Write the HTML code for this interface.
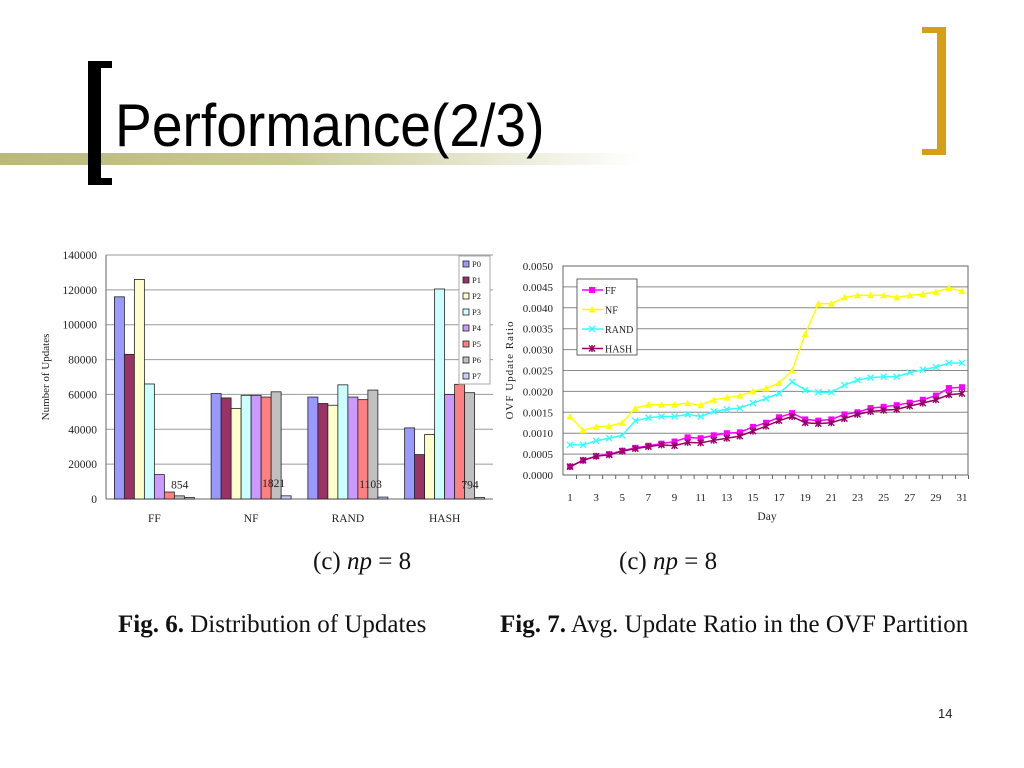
<!DOCTYPE html>
<html><head><meta charset="utf-8"><style>
body{margin:0;width:1024px;height:768px;background:#fff;overflow:hidden;position:relative;font-family:"Liberation Sans",sans-serif}
.abs{position:absolute}
.cap{font-family:"Liberation Serif",serif;font-size:25px;color:#111;white-space:nowrap}
</style></head><body>
<div class="abs" style="left:0;top:153px;width:640px;height:12px;background:linear-gradient(to right,#b9b97a 0%,#c9c995 45%,#ffffff 100%)"></div>
<div class="abs" style="left:88px;top:61px;width:13px;height:124px;background:#000"></div>
<div class="abs" style="left:88px;top:61px;width:24px;height:7px;background:#000"></div>
<div class="abs" style="left:88px;top:178px;width:24px;height:7px;background:#000"></div>
<div class="abs" style="left:937px;top:27px;width:9px;height:128px;background:#d4a017"></div>
<div class="abs" style="left:922px;top:27px;width:24px;height:6px;background:#d4a017"></div>
<div class="abs" style="left:922px;top:149px;width:24px;height:6px;background:#d4a017"></div>
<div class="abs" style="left:115px;top:92px;font-size:60px;line-height:68px;color:#000;transform:scaleX(0.92);transform-origin:0 0">Performance(2/3)</div>

<svg class="abs" style="left:0;top:0" width="1024" height="768" font-family="Liberation Serif, serif">
<g id="bar"></g><g id="line"></g>
</svg>

<div class="abs cap" style="left:313px;top:548px">(c) <i>np</i> = 8</div>
<div class="abs cap" style="left:619px;top:548px">(c) <i>np</i> = 8</div>
<div class="abs cap" style="left:118px;top:611px"><b>Fig. 6.</b> Distribution of Updates</div>
<div class="abs cap" style="left:500px;top:611px"><b>Fig. 7.</b> Avg. Update Ratio in the OVF Partition</div>
<div class="abs" style="left:938px;top:706px;font-size:13px;color:#222">14</div>

<script>
const NS="http://www.w3.org/2000/svg";
function mk(p,t,a){const e=document.createElementNS(NS,t);for(const k in a)e.setAttribute(k,a[k]);p.appendChild(e);return e;}

// ---- Bar chart data ----
const barCategories=["FF","NF","RAND","HASH"];
const barSeriesNames=["P0","P1","P2","P3","P4","P5","P6","P7"];
const barP0=[116000,60500,58500,40800];
const barP1=[83000,58000,54800,25500];
const barP2=[126000,52000,53800,37000];
const barP3=[66000,59500,65500,120500];
const barP4=[14000,59500,58500,60000];
const barP5=[4000,58500,57000,65800];
const barP6=[1800,61500,62500,61000];
const barP7=[854,1821,1103,794];
const barYTicks=[0,20000,40000,60000,80000,100000,120000,140000];
const barLabels=["854","1821","1103","794"];

const barColors=["#9999ff","#993366","#ffffcc","#ccffff","#cc99ff","#ff8080","#c0c0c0","#ccccff"];
const bs=[barP0,barP1,barP2,barP3,barP4,barP5,barP6,barP7];
const bx0=106,bx1=493,by0=499,by1=255,bmax=140000;
const by=v=>by0-(v/bmax)*(by0-by1);
const gw=(bx1-bx0)/barCategories.length;
const bw=10;
const B=document.getElementById('bar');
barYTicks.forEach(t=>{
  const l=mk(B,'line',{x1:bx0,x2:bx1,y1:by(t),y2:by(t),stroke:t?'#9a9a9a':'#666','stroke-width':1});
  
  
  const tx=mk(B,'text',{x:bx0-9,y:by(t)+4,'text-anchor':'end','font-size':11.5,fill:'#222'});tx.textContent=t;
  
  
});
mk(B,'line',{x1:bx0,x2:bx0,y1:by1,y2:by0,stroke:'#666'});
barCategories.forEach((c,i)=>{
  const gx=bx0+gw*i+(gw-8*bw)/2;
  bs.forEach((s,j)=>{
    const r=mk(B,'rect',{x:gx+j*bw,y:by(s[i]),width:bw,height:by0-by(s[i]),fill:barColors[j],stroke:'#222','stroke-width':0.8});
    
    
  });
  const t=mk(B,'text',{x:bx0+gw*(i+0.5),y:522,'text-anchor':'middle','font-size':11.5,fill:'#222'});t.textContent=c;
  
  
  const v=mk(B,'text',{x:gx+7*bw+4,y:by(barP7[i])-9,'text-anchor':'end','font-size':11.5,fill:'#222'});v.textContent=barLabels[i];
  
  
});
const yt=mk(B,'text',{transform:'translate(49,377) rotate(-90)','text-anchor':'middle','font-size':11,fill:'#222'});yt.textContent='Number of Updates';


const lg=mk(B,'rect',{x:459,y:256,width:31,height:128,fill:'#fff',stroke:'#aaa'});


barSeriesNames.forEach((n,j)=>{
  const y=264+j*16;
  const r=mk(B,'rect',{x:463,y:y-3,width:6,height:6,fill:barColors[j],stroke:'#222','stroke-width':0.8});
  
  
  const t=mk(B,'text',{x:472,y:y+3,'font-size':8.5,fill:'#222'});t.textContent=n;
});

// ---- Line chart data ----
const days=[];for(let d=1;d<=31;d++)days.push(d);
const lineFF=[0.0002,0.00035,0.00045,0.0005,0.00058,0.00065,0.0007,0.00075,0.0008,0.0009,0.00088,0.00095,0.001,0.00102,0.00115,0.00125,0.00138,0.00148,0.00133,0.0013,0.00133,0.00145,0.0015,0.0016,0.00163,0.00167,0.00173,0.0018,0.0019,0.00208,0.0021];
const lineNF=[0.0014,0.00107,0.00115,0.00117,0.00125,0.0016,0.00168,0.00168,0.00168,0.00172,0.00167,0.0018,0.00185,0.0019,0.002,0.00207,0.0022,0.0025,0.00337,0.0041,0.0041,0.00425,0.0043,0.0043,0.0043,0.00425,0.0043,0.00433,0.00438,0.00447,0.0044];
const lineRAND=[0.00072,0.00072,0.00082,0.00088,0.00095,0.0013,0.00137,0.0014,0.0014,0.00145,0.0014,0.00152,0.00157,0.0016,0.00172,0.00183,0.00195,0.00223,0.00203,0.00198,0.00198,0.00215,0.00227,0.00233,0.00235,0.00235,0.00245,0.00252,0.00258,0.00268,0.00268];
const lineHASH=[0.0002,0.00035,0.00045,0.00048,0.00057,0.00063,0.00068,0.00072,0.0007,0.00078,0.00077,0.00083,0.00088,0.00093,0.00105,0.00117,0.0013,0.0014,0.00125,0.00123,0.00125,0.00135,0.00145,0.00152,0.00155,0.00157,0.00165,0.00172,0.0018,0.00192,0.00195];
const lineYTicks=["0.0000","0.0005","0.0010","0.0015","0.0020","0.0025","0.0030","0.0035","0.0040","0.0045","0.0050"];
const lineSeriesNames=["FF","NF","RAND","HASH"];

const lx0=563,lx1=968,ly0=475,ly1=266,lmax=0.005;
const lx=d=>570+(d-1)*(962-570)/30;
const ly=v=>ly0-(v/lmax)*(ly0-ly1);
const L=document.getElementById('line');
lineYTicks.forEach(t=>{
  const v=parseFloat(t);
  const g=mk(L,'line',{x1:lx0,x2:lx1,y1:ly(v),y2:ly(v),stroke:'#888','stroke-width':1});
  
  
  const tx=mk(L,'text',{x:lx0-10,y:ly(v)+4,'text-anchor':'end','font-size':11,fill:'#222'});tx.textContent=t;
  
  
});
mk(L,'rect',{x:lx0,y:ly1,width:lx1-lx0,height:ly0-ly1,fill:'none',stroke:'#666'});
days.forEach(d=>{
  mk(L,'line',{x1:lx(d)+6.5,x2:lx(d)+6.5,y1:ly0,y2:ly0+4,stroke:'#666'});
  if(d%2){const t=mk(L,'text',{x:lx(d),y:501,'text-anchor':'middle','font-size':11,fill:'#222'});t.textContent=d;
  
  }
});
const xt=mk(L,'text',{x:767,y:520,'text-anchor':'middle','font-size':11.5,fill:'#222'});xt.textContent='Day';


const yt2=mk(L,'text',{transform:'translate(513,370) rotate(-90)','text-anchor':'middle','font-size':11,fill:'#222','letter-spacing':1});yt2.textContent='OVF Update Ratio';



const lcol=["#ff00ff","#ffff00","#33ffff","#990066"];
const lser=[lineFF,lineNF,lineRAND,lineHASH];
function marker(p,k,x,y,c){
  if(k===0)mk(p,'rect',{x:x-3,y:y-3,width:6,height:6,fill:c});
  else if(k===1)mk(p,'polygon',{points:`${x},${y-3.5} ${x+3.5},${y+3} ${x-3.5},${y+3}`,fill:c});
  else if(k===2)mk(p,'path',{d:`M${x-3} ${y-3}L${x+3} ${y+3}M${x-3} ${y+3}L${x+3} ${y-3}`,stroke:c,'stroke-width':1.3});
  else mk(p,'path',{d:`M${x-3} ${y-3}L${x+3} ${y+3}M${x-3} ${y+3}L${x+3} ${y-3}M${x} ${y-3.5}L${x} ${y+3.5}`,stroke:c,'stroke-width':1.4});
}
[1,2,0,3].forEach(k=>{
  const s=lser[k];
  const pl=mk(L,'polyline',{points:s.map((v,i)=>lx(days[i])+','+ly(v)).join(' '),fill:'none',stroke:lcol[k],'stroke-width':1.5});
  
  
  s.forEach((v,i)=>marker(L,k,lx(days[i]),ly(v),lcol[k]));
});
const lb=mk(L,'rect',{x:577,y:279,width:60,height:76,fill:'#fff',stroke:'#666'});


lineSeriesNames.forEach((n,k)=>{
  const y=290+k*19.5;
  const ln=mk(L,'line',{x1:582,x2:603,y1:y,y2:y,stroke:lcol[k],'stroke-width':1.5});
  
  
  marker(L,k,592,y,lcol[k]);
  const t=mk(L,'text',{x:605,y:y+4,'font-size':10,fill:'#222'});t.textContent=n;
});
</script>
</body></html>
